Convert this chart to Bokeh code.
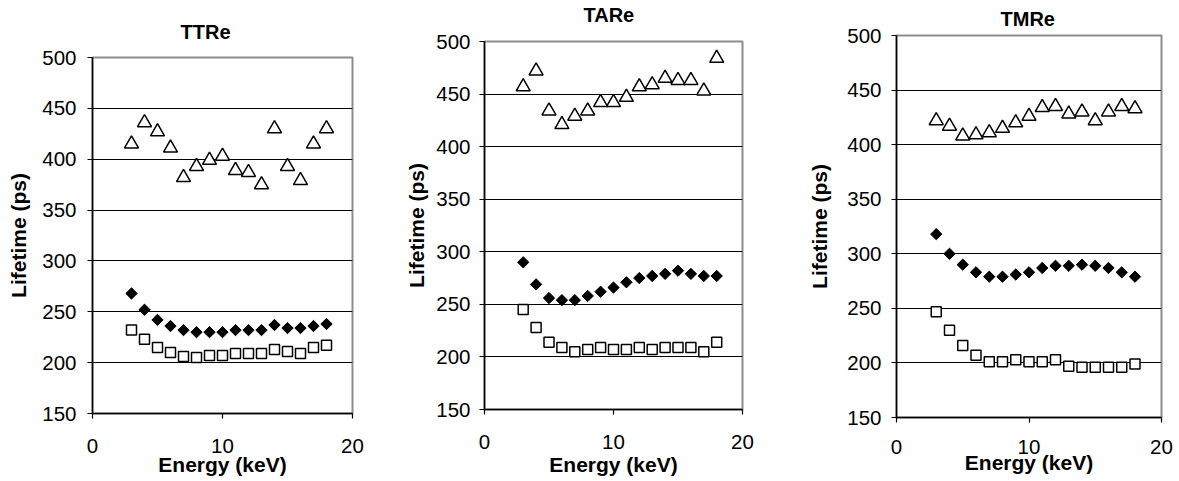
import math
from bokeh.plotting import figure
from bokeh.layouts import row
from bokeh.models import FixedTicker, LinearAxis
from bokeh.embed import file_html
from bokeh.resources import INLINE

energy = [3, 4, 5, 6, 7, 8, 9, 10, 11, 12, 13, 14, 15, 16, 17, 18]

ttre_tri = [415, 436, 427, 411, 382, 393, 399, 403, 389, 387, 375, 430, 393, 379, 415, 430]
ttre_dia = [268, 252, 242, 236, 232, 230, 230, 230, 232, 232, 232, 237, 234, 234, 236, 238]
ttre_sq = [232, 223, 215, 210, 206, 205, 207, 207, 209, 209, 209, 213, 211, 209, 215, 217]

tare_tri = [457, 472, 434, 421, 429, 434, 442, 442, 447, 457, 459, 465, 463, 463, 453, 484]
tare_dia = [290, 269, 256, 254, 254, 258, 262, 266, 271, 275, 277, 279, 282, 279, 277, 277]
tare_sq = [245, 228, 214, 209, 205, 207, 209, 207, 207, 209, 207, 209, 209, 209, 205, 214]

tmre_tri = [422, 417, 408, 409, 411, 415, 420, 426, 434, 435, 428, 430, 422, 430, 435, 433]
tmre_dia = [318, 300, 290, 283, 279, 279, 281, 283, 287, 289, 289, 290, 289, 287, 283, 279]
tmre_sq = [247, 230, 216, 207, 201, 201, 203, 201, 201, 203, 197, 196, 196, 196, 196, 199]

titles = ["TTRe", "TARe", "TMRe"]
x_ticks = [0, 10, 20]
y_ticks = [150, 200, 250, 300, 350, 400, 450, 500]
grid_ticks = [200, 250, 300, 350, 400, 450]
x_label = "Energy (keV)"
y_label = "Lifetime (ps)"

FONT = "Liberation Sans"
H = 480

# sp: height of an empty spacer strip between frame and title (0 = none)
layout = [
    dict(w=393, l=92, r=41, t=57, b=67, toff=88, tst=29, sp=0, s1=20, s2=-3, ys=11, yl=9),
    dict(w=393, l=91, r=44, t=41, b=71, toff=99, tst=0, sp=16, s1=20, s2=1, ys=9, yl=5),
    dict(w=391, l=110, r=16, t=35, b=63, toff=104, tst=11, sp=0, s1=17, s2=-6, ys=10, yl=13),
]
series = [
    (ttre_tri, ttre_dia, ttre_sq),
    (tare_tri, tare_dia, tare_sq),
    (tmre_tri, tmre_dia, tmre_sq),
]

figs = []
for title, lay, (tri, dia, sq) in zip(titles, layout, series):
    p = figure(width=lay["w"], height=H, x_range=(0, 20), y_range=(150, 500),
               output_backend="svg", toolbar_location=None, title=title,
               min_border_left=lay["l"], min_border_right=lay["r"],
               min_border_top=lay["t"], min_border_bottom=lay["b"])
    p.frame_align = False
    p.title.text_font = FONT
    p.title.text_font_size = "20px"
    p.title.text_font_style = "bold"
    p.title.text_color = "black"
    p.title.align = "left"
    p.title.offset = lay["toff"]
    p.title.standoff = lay["tst"]

    p.background_fill_color = "white"
    p.border_fill_color = "white"
    p.outline_line_color = "#8c8c8c"
    p.outline_line_width = 2

    p.xgrid.visible = False
    p.ygrid.ticker = FixedTicker(ticks=grid_ticks)
    p.ygrid.grid_line_color = "black"
    p.ygrid.grid_line_width = 1

    xax = p.below[0]
    yax = p.left[0]
    for ax in (xax, yax):
        ax.axis_line_color = "black"
        ax.axis_line_width = 1.5
        ax.major_tick_line_color = "black"
        ax.major_tick_line_width = 1.2
        ax.major_tick_out = 5
        ax.major_tick_in = 0
        ax.minor_tick_line_color = None
        ax.major_label_text_font = FONT
        ax.major_label_text_font_size = "20.5px"
        ax.major_label_text_color = "black"
        ax.axis_label_text_font = FONT
        ax.axis_label_text_font_size = "21px"
        ax.axis_label_text_font_style = "bold"
        ax.axis_label_text_color = "black"

    xax.ticker = FixedTicker(ticks=x_ticks)
    yax.ticker = FixedTicker(ticks=y_ticks)
    xax.axis_label = x_label
    yax.axis_label = y_label
    xax.major_label_standoff = lay["s1"]
    xax.axis_label_standoff = lay["s2"]
    yax.major_label_standoff = lay["ys"]
    yax.axis_label_standoff = lay["yl"]

    if lay["sp"] > 0:
        # invisible strip that lifts the title away from the frame
        spacer = LinearAxis(ticker=FixedTicker(ticks=[10]), axis_line_color=None,
                            major_tick_line_color=None, minor_tick_line_color=None,
                            major_tick_out=lay["sp"], major_tick_in=0,
                            minor_tick_out=0, major_label_standoff=0,
                            major_label_text_font_size="1px",
                            major_label_text_color=None)
        p.add_layout(spacer, "above")

    p.scatter(energy, tri, marker="triangle", size=14, fill_color="white",
              line_color="black", line_width=1.5)
    p.scatter(energy, dia, marker="square", angle=math.pi / 4, size=8,
              fill_color="black", line_color="black", line_width=1)
    p.scatter(energy, sq, marker="square", size=10, fill_color="white",
              line_color="black", line_width=1.5)
    figs.append(p)

layout_row = row(*figs)
open("out.html", "w").write(file_html(layout_row, INLINE))
